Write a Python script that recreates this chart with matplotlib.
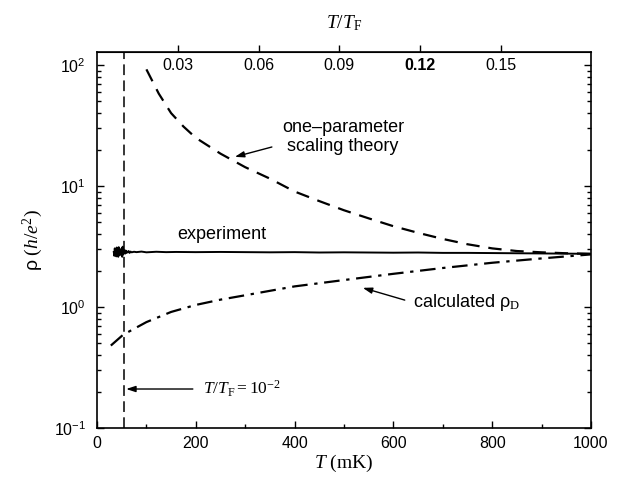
import matplotlib
matplotlib.use("Agg")
import matplotlib.pyplot as plt
from matplotlib.ticker import FixedLocator, LogLocator, NullFormatter

plt.rcParams['mathtext.fontset'] = 'custom'
plt.rcParams['mathtext.rm'] = 'Liberation Serif'
plt.rcParams['mathtext.it'] = 'Liberation Serif:italic'
plt.rcParams['mathtext.sf'] = 'Liberation Sans'
plt.rcParams['font.family'] = ['Liberation Sans', 'DejaVu Sans']

# ---- data ----
TF = 5450.0  # mK, Fermi temperature (top axis conversion)

exp_T = [34, 35, 36, 37, 38, 39, 40, 41, 42, 43, 44, 45, 46, 47, 48, 49, 50, 51,
         52, 53, 54, 55, 56, 57, 58, 59, 60, 62, 64, 66, 68, 70, 75, 80, 90, 100,
         120, 140, 160, 200, 250, 300, 350, 400, 450, 500, 550, 600, 650, 700,
         750, 800, 850, 900, 950, 1000]
exp_rho = [2.85, 2.65, 3.05, 2.70, 3.00, 2.62, 3.10, 2.75, 2.95, 2.60, 3.12, 2.70,
           3.00, 2.78, 2.92, 2.68, 3.05, 2.60, 3.15, 2.72, 2.98, 2.80, 2.90, 2.76,
           2.93, 2.80, 2.88, 2.82, 2.90, 2.80, 2.87, 2.83, 2.86, 2.84, 2.87, 2.83,
           2.86, 2.84, 2.85, 2.84, 2.85, 2.84, 2.83, 2.84, 2.82, 2.83, 2.82, 2.81,
           2.82, 2.80, 2.80, 2.79, 2.78, 2.77, 2.76, 2.75]

scal_T = [100, 125, 150, 175, 200, 250, 300, 350, 400, 450, 500, 550, 600, 650,
          700, 750, 800, 850, 900, 950, 1000]
scal_rho = [92, 58, 40, 31, 25, 18.5, 14.3, 11.5, 9.0, 7.5, 6.3, 5.4, 4.65, 4.1,
            3.65, 3.3, 3.05, 2.9, 2.83, 2.78, 2.75]

calc_T = [28, 53, 100, 150, 200, 250, 300, 400, 500, 600, 700, 800, 900, 1000]
calc_rho = [0.48, 0.59, 0.75, 0.91, 1.04, 1.15, 1.25, 1.48, 1.67, 1.88, 2.1,
            2.32, 2.52, 2.72]

T_line = 0.01 * TF  # T/TF = 10^-2

x_ticks = [0, 200, 400, 600, 800, 1000]
top_ticks = [0.03, 0.06, 0.09, 0.12, 0.15]
y_ticks = [0.1, 1, 10, 100]
y_ticklabels = [r'$\mathsf{10^{-1}}$', r'$\mathsf{10^{0}}$', r'$\mathsf{10^{1}}$',
                r'$\mathsf{10^{2}}$']

# ---- figure ----
fig = plt.figure(figsize=(6.18, 4.79), dpi=100)
ax = fig.add_axes([97/618, 1-428/479, (591-97)/618, (428-52)/479])

ax.plot(exp_T, exp_rho, color='black', lw=1.4)
ax.plot(scal_T, scal_rho, color='black', lw=1.6, dashes=(6, 4))
ax.plot(calc_T, calc_rho, color='black', lw=1.6, dashes=(7, 3, 1.5, 3))
ax.axvline(T_line, color='black', lw=1.1, dashes=(7, 3.5))

ax.set_yscale('log')
ax.set_xlim(0, 1000)
ax.set_ylim(0.1, 128)

ax.xaxis.set_major_locator(FixedLocator(x_ticks))
ax.xaxis.set_minor_locator(FixedLocator([100, 300, 500, 700, 900]))
ax.yaxis.set_major_locator(FixedLocator(y_ticks))
ax.set_yticklabels(y_ticklabels)
ax.yaxis.set_minor_locator(LogLocator(base=10, subs=range(2, 10)))
ax.yaxis.set_minor_formatter(NullFormatter())

ax.tick_params(which='both', direction='in', top=False, right=True,
               labelsize=11.5, width=1.0)
ax.tick_params(which='major', length=5)
ax.tick_params(which='minor', length=3)
ax.tick_params(axis='x', pad=6)
ax.tick_params(axis='y', pad=8)
for s in ax.spines.values():
    s.set_linewidth(1.2)

ax.set_xlabel(r'$T$ (mK)', fontfamily='Liberation Serif', fontsize=14, labelpad=1)
ax.set_ylabel(r'$\mathsf{ρ}\ (h/e^{2})$', fontsize=14, labelpad=6)

sec = ax.secondary_xaxis('top', functions=(lambda t: t / TF, lambda r: r * TF))
sec.set_xticks(top_ticks)
sec.set_xticklabels(['0.03', '0.06', '0.09', '0.12', '0.15'])
sec.tick_params(direction='out', length=5, width=1.0, labelsize=11.5, pad=-20)
sec.get_xticklabels()[3].set_fontweight('bold')
sec.set_xlabel(r'$T/T_{\mathrm{F}}$', fontsize=14, labelpad=12)

# ---- annotations ----
ax.text(498, 25.4, 'one\u2013parameter\nscaling theory', ha='center', va='center',
        fontsize=13, linespacing=1.1)
ax.annotate('', xy=(279, 17.4), xytext=(354, 21),
            arrowprops=dict(arrowstyle='-|>,head_length=0.55,head_width=0.18',
                            color='black', lw=1.0, shrinkA=0, shrinkB=0))
ax.text(253, 3.94, 'experiment', ha='center', va='center', fontsize=13)
ax.text(640, 1.08, r'calculated $\mathsf{ρ}_{\mathrm{D}}$', ha='left', va='center',
        fontsize=13)
ax.annotate('', xy=(538, 1.44), xytext=(623, 1.14),
            arrowprops=dict(arrowstyle='-|>,head_length=0.55,head_width=0.18',
                            color='black', lw=1.0, shrinkA=0, shrinkB=0))
ax.text(215, 0.21, r'$T/T_{\mathrm{F}} = 10^{-2}$', ha='left', va='center',
        fontsize=12.5)
ax.annotate('', xy=(59, 0.21), xytext=(194, 0.21),
            arrowprops=dict(arrowstyle='-|>,head_length=0.55,head_width=0.18',
                            color='black', lw=1.0, shrinkA=0, shrinkB=0))

fig.savefig('out.png', dpi=100)
